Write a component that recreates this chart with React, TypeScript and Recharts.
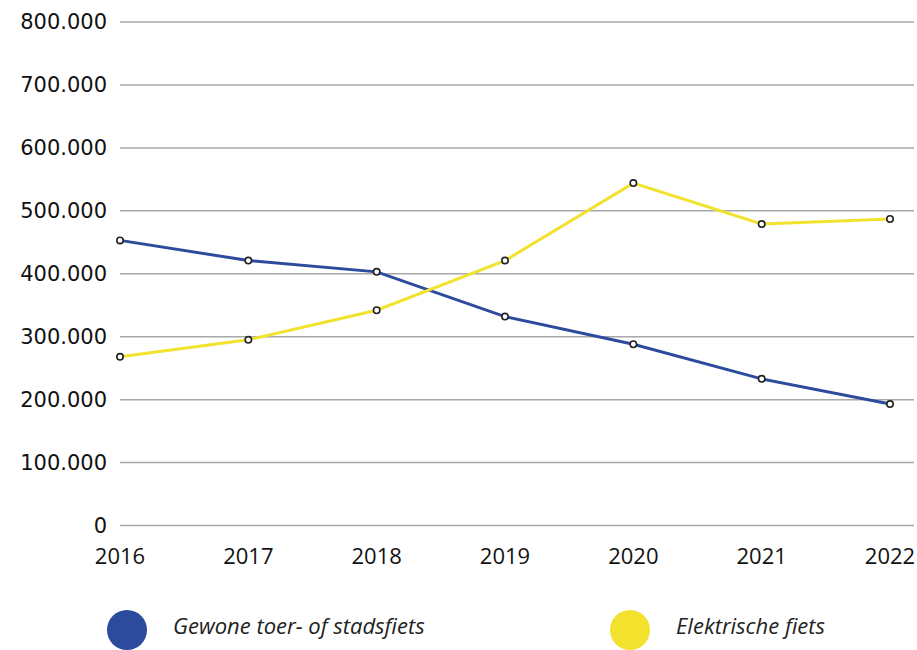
import React from "react";
import { CartesianGrid, Line, LineChart, XAxis, YAxis } from "recharts";

const years = ["2016", "2017", "2018", "2019", "2020", "2021", "2022"];
const gewone = [453000, 421000, 403000, 332000, 288000, 233000, 193000];
const elektrisch = [268000, 295000, 342000, 421000, 544000, 479000, 487000];
const yTicks = [0, 100000, 200000, 300000, 400000, 500000, 600000, 700000, 800000];

const BLUE = "#2c4b9c";
const YELLOW = "#f2e22e";

const data = years.map((year, i) => ({
  year,
  gewone: gewone[i],
  elektrisch: elektrisch[i],
}));

const fmt = (v: number) =>
  String(v).replace(/\B(?=(\d{3})+(?!\d))/g, ".");

const dot = { r: 3.2, fill: "#fff", stroke: "#222", strokeWidth: 1.6 };

export default function App() {
  return (
    <div
      style={{
        position: "fixed",
        left: 0,
        top: 0,
        width: 917,
        height: 650,
        background: "#fff",
        overflow: "hidden",
      }}
    >
      <LineChart
        width={917}
        height={650}
        data={data}
        margin={{ top: 22, right: 3, bottom: 74.5, left: 0 }}
      >
        <CartesianGrid vertical={false} stroke="#a8a8a8" strokeWidth={1.5} />
        <XAxis
          dataKey="year"
          axisLine={false}
          tickLine={false}
          tickSize={0}
          tickMargin={23}
          height={50}
          padding={{ left: 0, right: 24 }}
          interval={0}
          tick={{ fontSize: 22, fill: "#111", fontFamily: "Open Sans" }}
        />
        <YAxis
          width={120}
          domain={[0, 800000]}
          ticks={yTicks}
          axisLine={false}
          tickLine={false}
          tickSize={0}
          tickMargin={13}
          tickFormatter={fmt}
          tick={{ fontSize: 21, fill: "#111", fontFamily: "DejaVu Sans" }}
        />
        <Line
          type="linear"
          dataKey="gewone"
          stroke={BLUE}
          strokeWidth={3}
          dot={dot}
          activeDot={false}
          isAnimationActive={false}
        />
        <Line
          type="linear"
          dataKey="elektrisch"
          stroke={YELLOW}
          strokeWidth={3}
          dot={dot}
          activeDot={false}
          isAnimationActive={false}
        />
      </LineChart>
      <LegendItem x={107} color={BLUE} label="Gewone toer- of stadsfiets" />
      <LegendItem x={610} color={YELLOW} label="Elektrische fiets" />
    </div>
  );
}

function LegendItem({ x, color, label }: { x: number; color: string; label: string }) {
  return (
    <div style={{ position: "absolute", left: x, top: 610, display: "flex", alignItems: "center" }}>
      <div style={{ width: 40, height: 40, borderRadius: 20, background: color }} />
      <span
        style={{
          marginLeft: 26,
          marginTop: -10,
          fontFamily: "Open Sans",
          fontStyle: "italic",
          fontSize: 22,
          color: "#222",
        }}
      >
        {label}
      </span>
    </div>
  );
}
